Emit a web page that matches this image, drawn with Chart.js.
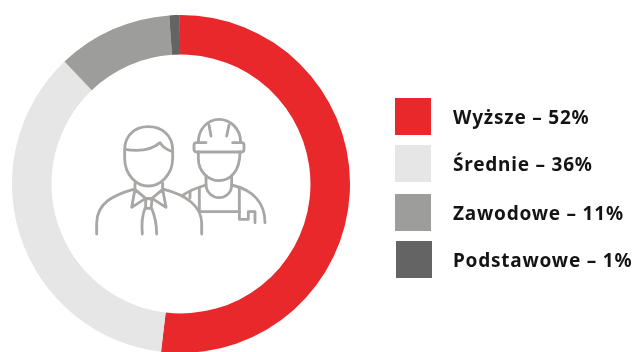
<!DOCTYPE html>
<html lang="pl">
<head>
<meta charset="utf-8">
<style>
html,body{margin:0;padding:0;background:#fff;width:636px;height:352px;overflow:hidden}
#wrap{position:relative;width:636px;height:352px;overflow:hidden}
canvas{position:absolute;left:0;top:0}
svg{position:absolute;left:80px;top:100px}
.sw{position:absolute;width:36px;height:37px}
.lb{position:absolute;left:453px;font:700 19px "Noto Sans",sans-serif;letter-spacing:.78px;color:#141414;white-space:nowrap;line-height:20px}
</style>
<script src="https://cdn.jsdelivr.net/npm/chart.js@4/dist/chart.umd.min.js"></script>
</head>
<body>
<div id="wrap">
<canvas id="c" width="636" height="354"></canvas>
<svg width="200" height="150" viewBox="0 0 600 450" fill="none" stroke="#a8a7a5" stroke-width="8.5" stroke-linecap="round" stroke-linejoin="round">
<path d="M134,150C134,105 165,80 205,80C245,80 278,105 278,150L278,175C278,225 240,258 205,258C170,258 134,225 134,175Z"/>
<path d="M134,148C175,155 215,150 240,128C248,140 262,150 278,155"/>
<path d="M165,250L165,268L155,322L197,295L165,268M248,250L248,268L258,322L216,295L248,268M197,295L216,295"/>
<path d="M197,300L205,295L216,300L213,325L197,325ZM195,325C185,350 185,380 187,402M215,325C225,350 230,380 230,402"/>
<path d="M50,402L50,370C50,310 100,285 160,268M252,268C320,285 365,320 365,370L365,402"/>
<path d="M355,128C355,85 385,58 417,58C450,58 482,85 482,128"/>
<path d="M378,128L350,128Q342,128 342,136L342,148Q342,156 350,156L485,156Q492,156 492,148L492,136Q492,128 485,128L458,128"/>
<path d="M387,75L393,108M447,75L440,108"/>
<path d="M355,156L355,175C355,215 385,242 417,242C450,242 480,215 480,156"/>
<path d="M378,228L378,255C380,280 400,293 417,293C435,293 455,280 455,255L455,228"/>
<path d="M310,285C330,270 355,262 378,255M455,255C520,270 555,310 555,368"/>
<path d="M358,262L358,335L478,335M330,275L330,295"/>
<path d="M478,265L478,358L505,358L505,335L525,335L525,368"/>
</svg>
</div>
<script>
const categories = ["Wyższe", "Średnie", "Zawodowe", "Podstawowe"];
const values = [52, 36, 11, 1];
const colors = ["#e8282b", "#e6e6e6", "#9d9d9c", "#646464"];
const legendTops = [98, 145, 194, 241];
const legendLefts = [395, 395, 395, 396];

Chart.defaults.animation = false;
new Chart(document.getElementById("c"), {
  type: "doughnut",
  data: {
    labels: categories,
    datasets: [{ data: values, backgroundColor: colors, borderWidth: 0 }]
  },
  options: {
    responsive: false,
    cutout: "76.6%",
    rotation: -0.4,
    layout: { padding: { left: 12, right: 286, top: 15, bottom: 1 } },
    plugins: { legend: { display: false }, tooltip: { enabled: false } }
  }
});

const wrap = document.getElementById("wrap");
categories.forEach((name, i) => {
  const s = document.createElement("div");
  s.className = "sw";
  s.style.left = legendLefts[i] + "px";
  s.style.top = legendTops[i] + "px";
  s.style.background = colors[i];
  wrap.appendChild(s);
  const t = document.createElement("div");
  t.className = "lb";
  t.style.top = (legendTops[i] + 9) + "px";
  t.textContent = name + " – " + values[i] + "%";
  wrap.appendChild(t);
});
</script>
</body>
</html>
